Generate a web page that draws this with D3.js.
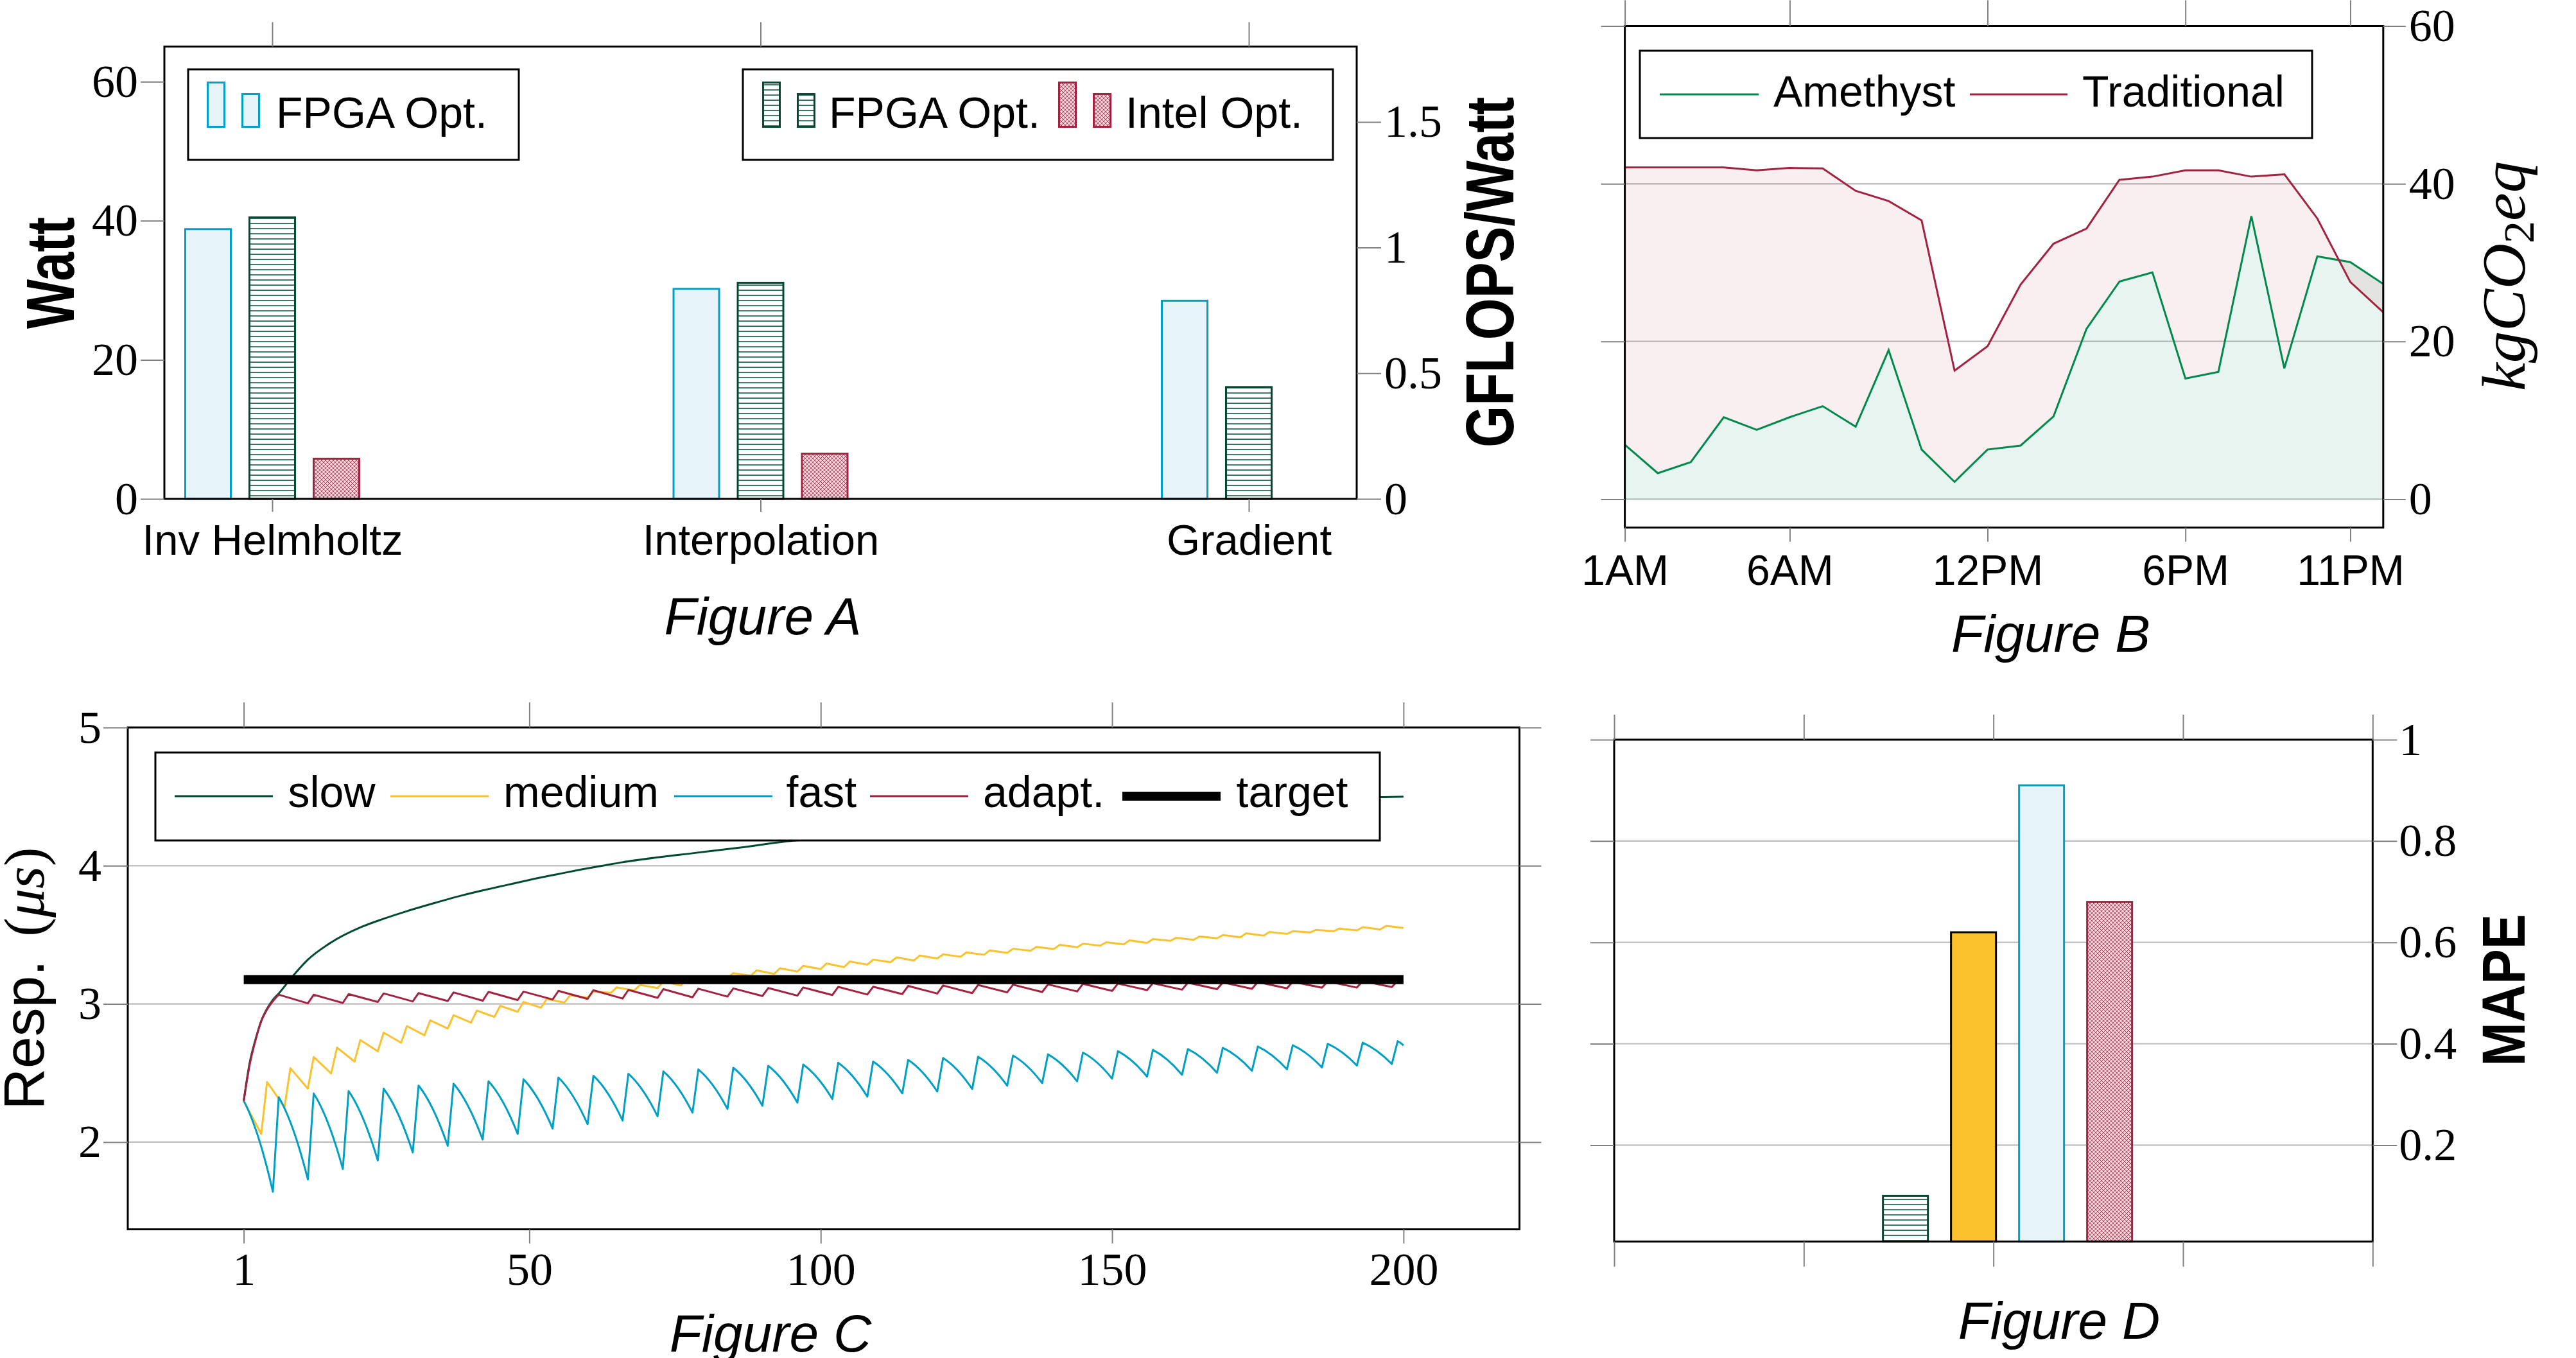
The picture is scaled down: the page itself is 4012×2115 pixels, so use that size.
<!DOCTYPE html>
<html>
<head>
<meta charset="utf-8">
<script src="https://cdn.jsdelivr.net/npm/d3@7"></script>
<style>
  body { margin: 0; background: #fff; }
  svg { display: block; }
</style>
</head>
<body>
<script>
// ---- Figure A: power and efficiency per benchmark ----
const benchmarks = ["Inv Helmholtz", "Interpolation", "Gradient"];
const fpgaWatt = [38.8, 30.2, 28.5];
const fpgaGflopsPerWatt = [1.12, 0.86, 0.445];
const intelGflopsPerWatt = [0.16, 0.18, null];
const wattTicks = [0, 20, 40, 60];
const gflopsTicks = [0, 0.5, 1, 1.5];

// ---- Figure B: hourly emissions ----
const hours = [1, 2, 3, 4, 5, 6, 7, 8, 9, 10, 11, 12, 13, 14, 15, 16, 17, 18, 19, 20, 21, 22, 23, 24];
const amethyst = [6.9, 3.3, 4.7, 10.4, 8.8, 10.4, 11.8, 9.2, 18.9, 6.3, 2.2, 6.3, 6.8, 10.5, 21.6, 27.6, 28.75, 15.3, 16.15, 35.9, 16.6, 30.8, 30.06, 27.3];
const traditional = [42.06, 42.06, 42.06, 42.06, 41.7, 42.0, 41.95, 39.1, 37.8, 35.35, 16.3, 19.4, 27.2, 32.4, 34.3, 40.5, 40.9, 41.7, 41.7, 40.9, 41.2, 35.6, 27.55, 23.7];
const hourTicks = [1, 6, 12, 18, 23];
const hourLabels = ["1AM", "6AM", "12PM", "6PM", "11PM"];
const co2Ticks = [0, 20, 40, 60];

// ---- Figure C: response time ----
const stepTicks = [1, 50, 100, 150, 200];
const respTicks = [2, 3, 4, 5];
const slowX = [1, 2, 3, 4, 5, 6, 7, 9, 12, 16, 21, 25, 29, 34, 38, 42, 46, 50, 55, 59, 63, 66, 72, 78, 86, 94, 110, 130, 150, 170, 185, 196, 200];
const slowY = [2.298, 2.57, 2.74, 2.876, 2.965, 3.03, 3.075, 3.18, 3.32, 3.445, 3.553, 3.616, 3.671, 3.733, 3.78, 3.821, 3.859, 3.897, 3.94, 3.973, 4.003, 4.025, 4.06, 4.09, 4.13, 4.175, 4.24, 4.31, 4.37, 4.43, 4.465, 4.496, 4.5];
const mediumPeakX = [1, 5, 9, 13, 17, 21, 25, 29, 33, 37, 41, 45, 49, 53, 57, 61, 65, 69, 73, 77, 81, 85, 89, 93, 97, 101, 105, 109, 113, 117, 121, 125, 129, 133, 137, 141, 145, 149, 153, 157, 161, 165, 169, 173, 177, 181, 185, 189, 193, 197];
const mediumPeak = [2.298, 2.435, 2.535, 2.616, 2.684, 2.739, 2.792, 2.84, 2.881, 2.918, 2.952, 2.986, 3.014, 3.036, 3.062, 3.09, 3.12, 3.137, 3.16, 3.18, 3.2, 3.222, 3.243, 3.258, 3.275, 3.293, 3.307, 3.32, 3.337, 3.35, 3.359, 3.373, 3.387, 3.399, 3.412, 3.427, 3.435, 3.446, 3.46, 3.469, 3.479, 3.488, 3.498, 3.511, 3.52, 3.526, 3.536, 3.545, 3.555, 3.564];
const mediumTroughX = [4, 8, 12, 16, 20, 24, 28, 32, 36, 40, 44, 48, 52, 56, 60, 64, 68, 72, 76, 80, 84, 88, 92, 96, 100, 104, 108, 112, 116, 120, 124, 128, 132, 136, 140, 144, 148, 152, 156, 160, 164, 168, 172, 176, 180, 184, 188, 192, 196, 200];
const mediumTrough = [2.059, 2.254, 2.387, 2.497, 2.583, 2.657, 2.719, 2.773, 2.822, 2.865, 2.906, 2.943, 2.973, 3.009, 3.045, 3.08, 3.098, 3.115, 3.133, 3.16, 3.185, 3.204, 3.217, 3.234, 3.252, 3.266, 3.284, 3.302, 3.314, 3.329, 3.341, 3.355, 3.369, 3.384, 3.397, 3.41, 3.422, 3.431, 3.441, 3.456, 3.464, 3.475, 3.482, 3.494, 3.507, 3.517, 3.526, 3.532, 3.539, 3.549];
const fastPeakX = [1, 7, 13, 19, 25, 31, 37, 43, 49, 55, 61, 67, 73, 79, 85, 91, 97, 103, 109, 115, 121, 127, 133, 139, 145, 151, 157, 163, 169, 175, 181, 187, 193, 199];
const fastPeak = [2.298, 2.325, 2.352, 2.369, 2.387, 2.409, 2.423, 2.44, 2.455, 2.467, 2.48, 2.494, 2.512, 2.526, 2.538, 2.552, 2.561, 2.574, 2.583, 2.595, 2.609, 2.618, 2.626, 2.635, 2.648, 2.658, 2.667, 2.673, 2.682, 2.692, 2.701, 2.711, 2.72, 2.73];
const fastTroughX = [6, 12, 18, 24, 30, 36, 42, 48, 54, 60, 66, 72, 78, 84, 90, 96, 102, 108, 114, 120, 126, 132, 138, 144, 150, 156, 162, 168, 174, 180, 186, 192, 198, 200];
const fastTrough = [1.641, 1.73, 1.806, 1.867, 1.925, 1.973, 2.018, 2.059, 2.098, 2.13, 2.156, 2.187, 2.213, 2.24, 2.263, 2.286, 2.311, 2.329, 2.352, 2.366, 2.384, 2.408, 2.427, 2.44, 2.459, 2.474, 2.487, 2.502, 2.516, 2.527, 2.54, 2.554, 2.565, 2.7];
const adaptRampX = [1, 2, 3, 4, 5, 6, 7];
const adaptRamp = [2.298, 2.556, 2.734, 2.876, 2.96, 3.02, 3.067];
const adaptPeakX = [7, 13, 19, 25, 31, 37, 43, 49, 55, 61, 67, 73, 79, 85, 91, 97, 103, 109, 115, 121, 127, 133, 139, 145, 151, 157, 163, 169, 175, 181, 187, 193, 199];
const adaptPeak = [3.067, 3.066, 3.071, 3.076, 3.078, 3.083, 3.087, 3.089, 3.094, 3.099, 3.101, 3.107, 3.11, 3.112, 3.115, 3.119, 3.123, 3.124, 3.13, 3.133, 3.137, 3.139, 3.141, 3.145, 3.147, 3.15, 3.153, 3.155, 3.158, 3.16, 3.162, 3.165, 3.167];
const adaptTroughX = [12, 18, 24, 30, 36, 42, 48, 54, 60, 66, 72, 78, 84, 90, 96, 102, 108, 114, 120, 126, 132, 138, 144, 150, 156, 162, 168, 174, 180, 186, 192, 198, 200];
const adaptTrough = [3.004, 3.007, 3.014, 3.018, 3.021, 3.023, 3.028, 3.032, 3.036, 3.039, 3.044, 3.048, 3.053, 3.057, 3.06, 3.064, 3.068, 3.071, 3.075, 3.078, 3.084, 3.086, 3.09, 3.094, 3.1, 3.103, 3.107, 3.109, 3.113, 3.117, 3.118, 3.122, 3.155];
const targetRange = [1, 200];
const targetValue = 3.175;

// ---- Figure D: error per model ----
const models = ["slow", "medium", "fast", "adapt."];
const mape = [0.10, 0.62, 0.91, 0.68];
const mapeTicks = [0.2, 0.4, 0.6, 0.8, 1];
const dTicks = [0, 1, 2, 3, 4];

// ---- styling ----
const SERIF = "'Liberation Serif','DejaVu Serif',serif";
const SANS = "'Liberation Sans',Arial,'DejaVu Sans',sans-serif";
const TICK = "#808080", GRID = "#c4c4c4";
const DKGREEN = "#004b30", YELLOW = "#fbc22d", BLUE = "#00a0c6", LTBLUE = "#e6f4f9", CRIMSON = "#a3223f", AMGREEN = "#00894d";

const svg = d3.select("body").append("svg").attr("width", 4012).attr("height", 2115);
const defs = svg.append("defs");

const hl = defs.append("pattern").attr("id", "hlines").attr("patternUnits", "userSpaceOnUse").attr("width", 10).attr("height", 8);
hl.append("rect").attr("width", 10).attr("height", 8).attr("fill", "#fff");
hl.append("rect").attr("y", 3.3).attr("width", 10).attr("height", 1.5).attr("fill", DKGREEN);

const xh = defs.append("pattern").attr("id", "xhatch").attr("patternUnits", "userSpaceOnUse").attr("width", 6).attr("height", 6);
xh.append("rect").attr("width", 6).attr("height", 6).attr("fill", "#f0d5db");
xh.append("path").attr("d", "M0,0L6,6M6,0L0,6").attr("stroke", "#b8445e").attr("stroke-width", 1);

const fills = {
  light: {fill: LTBLUE, stroke: BLUE},
  green: {fill: "url(#hlines)", stroke: DKGREEN},
  red: {fill: "url(#xhatch)", stroke: CRIMSON},
  yellow: {fill: YELLOW, stroke: "#000"}
};

//draws the black box round a plot
const frame = function(box) {
  svg.append("rect").attr("x", box.l).attr("y", box.t)
    .attr("width", box.r - box.l).attr("height", box.b - box.t)
    .attr("fill", "none").attr("stroke", "#000").attr("stroke-width", 3);
}

const grid = function(box, y, values) {
  svg.append("g").selectAll("line").data(values).join("line")
    .attr("x1", box.l).attr("x2", box.r)
    .attr("y1", d => y(d)).attr("y2", d => y(d))
    .attr("stroke", GRID).attr("stroke-width", 2.5);
}

const axis = function(gen, tx, ty, font, size) {
  const g = svg.append("g").attr("transform", `translate(${tx},${ty})`).call(gen);
  g.select(".domain").remove();
  g.selectAll(".tick line").attr("stroke", TICK).attr("stroke-width", 2);
  g.selectAll(".tick text").attr("fill", "#000").attr("font-family", font).attr("font-size", size);
  return g;
}

//rotated axis title, squeezed to the length it has in the picture
const sideLabel = function(parts, baseX, midY, len) {
  const g = svg.append("g").attr("transform", `translate(${baseX},${midY}) rotate(-90)`);
  const t = g.append("text").attr("text-anchor", "middle").attr("fill", "#000");
  parts.forEach(p => {
    const s = t.append("tspan").text(p.text);
    Object.keys(p.attr).forEach(k => s.attr(k, p.attr[k]));
  });
  const w = t.node().getComputedTextLength();
  t.attr("transform", `scale(${len / w},1)`);
}

const caption = function(text, cx, baseY) {
  svg.append("text").attr("x", cx).attr("y", baseY).attr("text-anchor", "middle")
    .attr("font-family", SANS).attr("font-style", "italic").attr("font-size", 82).text(text);
}

const legendBox = function(x0, y0, x1, y1) {
  svg.append("rect").attr("x", x0).attr("y", y0).attr("width", x1 - x0).attr("height", y1 - y0)
    .attr("fill", "#fff").attr("stroke", "#000").attr("stroke-width", 3);
}

const legendText = function(text, x, y) {
  svg.append("text").attr("x", x).attr("y", y).attr("font-family", SANS).attr("font-size", 68).text(text);
}

const barIcon = function(x, style) {
  [[0, 128.5, 69], [54, 146.5, 51]].forEach(([dx, y, h]) => {
    svg.append("rect").attr("x", x + dx + 1.5).attr("y", y).attr("width", 26).attr("height", h)
      .attr("fill", style.fill).attr("stroke", style.stroke).attr("stroke-width", 3);
  });
}

// ================= Figure A =================
const boxA = {l: 256, r: 2113, t: 72.5, b: 777};
const xA = d3.scalePoint().domain(benchmarks).range([424, 1945]);
const yWatt = d3.scaleLinear().domain([0, 65.05]).range([boxA.b, boxA.t]);
const yGpw = d3.scaleLinear().domain([0, 1.8]).range([boxA.b, boxA.t]);
const barA = 71, shiftA = 100;

const seriesA = [
  {values: fpgaWatt, y: yWatt, shift: -shiftA, style: fills.light},
  {values: fpgaGflopsPerWatt, y: yGpw, shift: 0, style: fills.green},
  {values: intelGflopsPerWatt, y: yGpw, shift: shiftA, style: fills.red}
];
seriesA.forEach(s => {
  svg.append("g").selectAll("rect")
    .data(benchmarks.map((b, i) => ({b: b, v: s.values[i]})).filter(d => d.v != null))
    .join("rect")
    .attr("x", d => xA(d.b) + s.shift - barA / 2).attr("width", barA)
    .attr("y", d => s.y(d.v)).attr("height", d => boxA.b - s.y(d.v))
    .attr("fill", s.style.fill).attr("stroke", s.style.stroke).attr("stroke-width", 3);
});
frame(boxA);
axis(d3.axisTop(xA).tickSize(38).tickFormat(""), 0, boxA.t);
axis(d3.axisBottom(xA).tickSize(20).tickPadding(19.5), 0, boxA.b, SANS, 67);
axis(d3.axisLeft(yWatt).tickValues(wattTicks).tickSize(37).tickPadding(4), boxA.l, 0, SERIF, 72);
axis(d3.axisRight(yGpw).tickValues(gflopsTicks).tickSize(38).tickPadding(5).tickFormat(d3.format("~g")), boxA.r, 0, SERIF, 72);

legendBox(293, 108, 808, 249);
barIcon(322, fills.light);
legendText("FPGA Opt.", 430, 199);
legendBox(1157, 108, 2076, 249);
barIcon(1187, fills.green);
legendText("FPGA Opt.", 1291, 199);
barIcon(1648, fills.red);
legendText("Intel Opt.", 1753, 199);

sideLabel([{text: "Watt", attr: {"font-family": SANS, "font-weight": "bold", "font-size": 106}}], 115, 425, 174);
sideLabel([{text: "GFLOPS/Watt", attr: {"font-family": SANS, "font-weight": "bold", "font-size": 106}}], 2357, 424, 546);
caption("Figure A", 1188, 988);

// ================= Figure B =================
const boxB = {l: 2530.6, r: 3711.8, t: 40.5, b: 821.7};
const xB = d3.scaleLinear().domain([1, 24]).range([boxB.l, boxB.r]);
const yB = d3.scaleLinear().domain([-3.6, 60]).range([boxB.b, boxB.t]);

grid(boxB, yB, [0, 20, 40]);
svg.append("path").datum(hours)
  .attr("d", d3.area().x(h => xB(h)).y0(yB(0)).y1((h, i) => yB(amethyst[i])))
  .attr("fill", AMGREEN).attr("fill-opacity", 0.09);
svg.append("path").datum(hours)
  .attr("d", d3.area().x(h => xB(h)).y0((h, i) => yB(amethyst[i])).y1((h, i) => yB(traditional[i])))
  .attr("fill", CRIMSON).attr("fill-opacity", 0.07);
[[amethyst, AMGREEN], [traditional, CRIMSON]].forEach(([vals, col]) => {
  svg.append("path").datum(hours)
    .attr("d", d3.line().x(h => xB(h)).y((h, i) => yB(vals[i])))
    .attr("fill", "none").attr("stroke", col).attr("stroke-width", 3);
});
frame(boxB);
axis(d3.axisTop(xB).tickValues(hourTicks).tickSize(40).tickFormat(""), 0, boxB.t);
axis(d3.axisBottom(xB).tickValues(hourTicks).tickSize(22).tickPadding(20.5).tickFormat((d, i) => hourLabels[i]), 0, boxB.b, SANS, 66);
axis(d3.axisLeft(yB).tickValues(co2Ticks).tickSize(37).tickFormat(""), boxB.l, 0);
axis(d3.axisRight(yB).tickValues(co2Ticks).tickSize(35).tickPadding(5), boxB.r, 0, SERIF, 72);

legendBox(2554, 79, 3601, 215);
svg.append("line").attr("x1", 2585).attr("x2", 2739).attr("y1", 147).attr("y2", 147).attr("stroke", AMGREEN).attr("stroke-width", 3);
legendText("Amethyst", 2762, 166);
svg.append("line").attr("x1", 3068).attr("x2", 3220).attr("y1", 147).attr("y2", 147).attr("stroke", CRIMSON).attr("stroke-width", 3);
legendText("Traditional", 3243, 166);

sideLabel([
  {text: "kgCO", attr: {"font-family": SERIF, "font-style": "italic", "font-size": 96}},
  {text: "2", attr: {"font-family": SERIF, "font-size": 68, "dy": 14}},
  {text: "eq", attr: {"font-family": SERIF, "font-style": "italic", "font-size": 96, "dy": -14}}
], 3932, 430, 358);
caption("Figure B", 3194, 1015);

// ================= Figure C =================
const boxC = {l: 199, r: 2366.5, t: 1133, b: 1914.6};
const xC = d3.scaleLinear().domain([-18.9, 219.9]).range([boxC.l, boxC.r]);
const yC = d3.scaleLinear().domain([1.369, 5]).range([boxC.b, boxC.t]);
const lineC = d3.line().x(d => xC(d[0])).y(d => yC(d[1]));

const zigzag = function(px, py, tx, ty) {
  const pts = [];
  px.forEach((x, i) => {
    pts.push([x, py[i]]);
    if (i < tx.length) pts.push([tx[i], ty[i]]);
  });
  return pts;
}

const drawLine = function(pts, col, curve) {
  svg.append("path").attr("d", lineC.curve(curve || d3.curveLinear)(pts))
    .attr("fill", "none").attr("stroke", col).attr("stroke-width", 3).attr("stroke-linejoin", "round");
}

grid(boxC, yC, [2, 3, 4]);
drawLine(slowX.map((x, i) => [x, slowY[i]]), DKGREEN, d3.curveMonotoneX);
drawLine(zigzag(mediumPeakX, mediumPeak, mediumTroughX, mediumTrough), YELLOW);

//fast: each tooth decays along a bent curve, then jumps back up
const fastPath = d3.path();
fastPeakX.forEach((x0, i) => {
  const X0 = xC(x0), Y0 = yC(fastPeak[i]);
  const X1 = xC(fastTroughX[i]), Y1 = yC(fastTrough[i]);
  if (i == 0) fastPath.moveTo(X0, Y0); else fastPath.lineTo(X0, Y0);
  fastPath.quadraticCurveTo(X0 + 0.5 * (X1 - X0), Y0 + 0.3 * (Y1 - Y0), X1, Y1);
});
svg.append("path").attr("d", fastPath.toString())
  .attr("fill", "none").attr("stroke", BLUE).attr("stroke-width", 3).attr("stroke-linejoin", "round");

drawLine(adaptRampX.map((x, i) => [x, adaptRamp[i]]), CRIMSON, d3.curveMonotoneX);
drawLine(zigzag(adaptPeakX, adaptPeak, adaptTroughX, adaptTrough), CRIMSON);
svg.append("line").attr("x1", xC(targetRange[0])).attr("x2", xC(targetRange[1]))
  .attr("y1", yC(targetValue)).attr("y2", yC(targetValue)).attr("stroke", "#000").attr("stroke-width", 14);

frame(boxC);
axis(d3.axisTop(xC).tickValues(stepTicks).tickSize(39).tickFormat(""), 0, boxC.t);
axis(d3.axisBottom(xC).tickValues(stepTicks).tickSize(22).tickPadding(13.5), 0, boxC.b, SERIF, 72);
axis(d3.axisLeft(yC).tickValues(respTicks).tickSize(38).tickPadding(3).tickFormat(d3.format("~g")), boxC.l, 0, SERIF, 72);
axis(d3.axisRight(yC).tickValues(respTicks).tickSize(34).tickFormat(""), boxC.r, 0);

legendBox(242, 1172, 2149, 1309);
const legendC = [
  {text: "slow", col: DKGREEN, w: 3, x0: 272, tx: 448.5},
  {text: "medium", col: YELLOW, w: 3, x0: 608, tx: 784},
  {text: "fast", col: BLUE, w: 3, x0: 1050, tx: 1224.6},
  {text: "adapt.", col: CRIMSON, w: 3, x0: 1355, tx: 1531},
  {text: "target", col: "#000", w: 14, x0: 1748, tx: 1925.6}
];
legendC.forEach(e => {
  svg.append("line").attr("x1", e.x0).attr("x2", e.x0 + 153).attr("y1", 1240).attr("y2", 1240)
    .attr("stroke", e.col).attr("stroke-width", e.w);
  legendText(e.text, e.tx, 1257);
});

sideLabel([
  {text: "Resp.", attr: {"font-family": SANS, "font-size": 89}},
  {text: " (", attr: {"font-family": SERIF, "font-size": 89, "dx": 14}},
  {text: "μs", attr: {"font-family": SERIF, "font-style": "italic", "font-size": 89}},
  {text: ")", attr: {"font-family": SERIF, "font-size": 89}}
], 68, 1524, 395);
caption("Figure C", 1200, 2105);

// ================= Figure D =================
const boxD = {l: 2514, r: 3695.3, t: 1152, b: 1933.7};
const xD = d3.scaleLinear().domain([0, 4]).range([boxD.l, boxD.r]);
const yD = d3.scaleLinear().domain([0.0097, 1]).range([boxD.b, boxD.t]);
const barD = 70, stepD = 106, firstD = -137;
const stylesD = [fills.green, fills.yellow, fills.light, fills.red];

grid(boxD, yD, [0.2, 0.4, 0.6, 0.8]);
svg.append("g").selectAll("rect").data(models).join("rect")
  .attr("x", (d, i) => xD(2) + firstD + i * stepD - barD / 2).attr("width", barD)
  .attr("y", (d, i) => yD(mape[i])).attr("height", (d, i) => boxD.b - yD(mape[i]))
  .attr("fill", (d, i) => stylesD[i].fill).attr("stroke", (d, i) => stylesD[i].stroke).attr("stroke-width", 3);
frame(boxD);
axis(d3.axisTop(xD).tickValues(dTicks).tickSize(39).tickFormat(""), 0, boxD.t);
axis(d3.axisBottom(xD).tickValues(dTicks).tickSize(39).tickFormat(""), 0, boxD.b);
axis(d3.axisLeft(yD).tickValues(mapeTicks).tickSize(37).tickFormat(""), boxD.l, 0);
axis(d3.axisRight(yD).tickValues(mapeTicks).tickSize(38).tickPadding(3).tickFormat(d3.format("~g")), boxD.r, 0, SERIF, 72);

sideLabel([{text: "MAPE", attr: {"font-family": SANS, "font-weight": "bold", "font-size": 94}}], 3932, 1542, 237);
caption("Figure D", 3207, 2085);
</script>
</body>
</html>
